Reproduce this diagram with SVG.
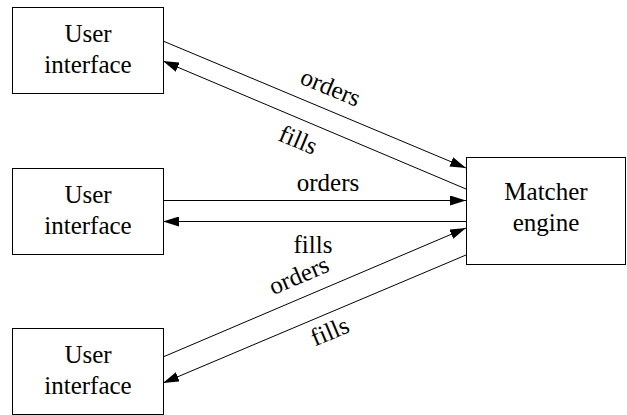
<svg xmlns="http://www.w3.org/2000/svg" width="627" height="415" viewBox="0 0 627 415">
  <style>
    .box { fill: #ffffff; stroke: #000000; stroke-width: 1; }
    .lbl { font-family: 'Liberation Serif', 'Times New Roman', Times, 'DejaVu Serif', serif; font-size: 25px; fill: #000000; text-anchor: middle; }
    .edge { stroke: #000000; stroke-width: 1; fill: none; marker-end: url(#arrow); }
  </style>
  <defs>
    <marker id="arrow" viewBox="0 0 16 10" refX="16" refY="5" markerWidth="16" markerHeight="10" markerUnits="userSpaceOnUse" orient="auto">
      <path d="M0,0 L16,5 L0,10 z" fill="#000000"/>
    </marker>
  </defs>
  <rect width="627" height="415" fill="#ffffff"/>

  <g id="ui1">
    <rect class="box" x="12.5" y="7.5" width="151" height="86"/>
    <text class="lbl" x="88" y="42">User</text>
    <text class="lbl" x="88" y="73">interface</text>
  </g>
  <g id="ui2">
    <rect class="box" x="12.5" y="168.5" width="151" height="86"/>
    <text class="lbl" x="88" y="203">User</text>
    <text class="lbl" x="88" y="234">interface</text>
  </g>
  <g id="ui3">
    <rect class="box" x="12.5" y="328.5" width="151" height="86"/>
    <text class="lbl" x="88" y="363">User</text>
    <text class="lbl" x="88" y="394">interface</text>
  </g>
  <g id="matcher">
    <rect class="box" x="466.5" y="157.5" width="159" height="107"/>
    <text class="lbl" x="546" y="200">Matcher</text>
    <text class="lbl" x="546" y="231">engine</text>
  </g>

  <g id="connectors">
    <line class="edge" x1="163" y1="41" x2="466" y2="168"/>
    <line class="edge" x1="466" y1="189" x2="163" y2="61"/>
    <line class="edge" x1="163" y1="200.5" x2="466" y2="200.5"/>
    <line class="edge" x1="466" y1="221.5" x2="163" y2="221.5"/>
    <line class="edge" x1="163" y1="357" x2="466" y2="228"/>
    <line class="edge" x1="466" y1="255" x2="163" y2="383"/>

    <text class="lbl" transform="translate(327.5,95) rotate(22.7)">orders</text>
    <text class="lbl" transform="translate(295,147.5) rotate(22.9)">fills</text>
    <text class="lbl" x="328" y="191">orders</text>
    <text class="lbl" x="313" y="253">fills</text>
    <text class="lbl" transform="translate(302,283) rotate(-23.1)">orders</text>
    <text class="lbl" transform="translate(333,339) rotate(-22.9)">fills</text>
  </g>
</svg>
